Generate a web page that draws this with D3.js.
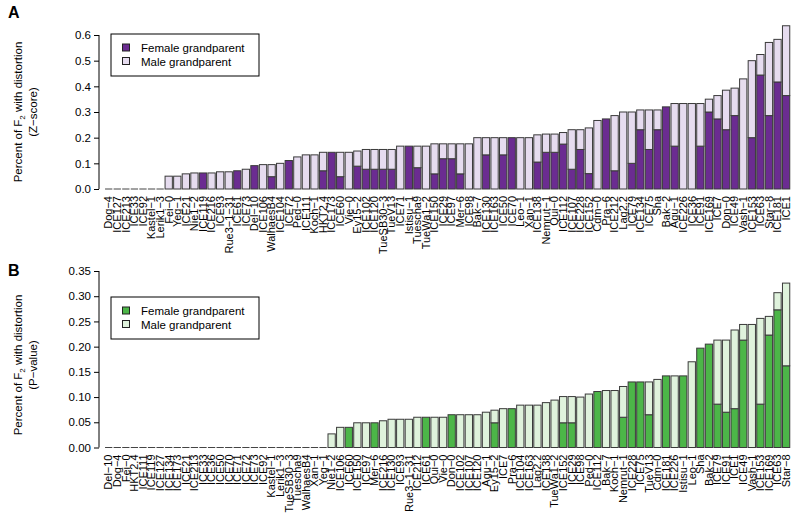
<!DOCTYPE html>
<html><head><meta charset="utf-8">
<script src="https://cdn.jsdelivr.net/npm/d3@7"></script>
<style>body{margin:0;background:#fff}svg{display:block;font-family:"Liberation Sans",Arial,sans-serif}</style>
</head><body><svg id="c" width="800" height="529"></svg>
<script>
const categoriesA = ["Dog-4","ICE127","ICE213","ICE33","ICE92","Kastel-1","Lerik1-3","Fei-0","Yeg-1","ICE21","Nie1-2","ICE119","ICE216","ICE93","Rue3-1-31","ICE61","ICE73","Del-10","ICE106","WalhaesB4","ICE104","ICE72","Ped-0","ICE111","Koch-1","HKT2.4","ICE173","ICE60","Vie-0","Ey15-2","ICE102","ICE120","TueSB30-3","TueV13","ICE71","Istisu-1","Tuescha9","TueWa1-2","ICE150","ICE29","ICE97","Mer-6","ICE98","Bak-7","ICE130","ICE163","ICE50","ICE70","Leo-1","Xan-1","ICE138","Nemrut-1","Qui-0","ICE112","ICE107","ICE228","ICE152","Cdm-0","Pra-6","ICE212","Lag2.2","ICE79","ICE134","ICE75","Sha","Bak-2","Agu-1","ICE226","ICE36","ICE91","ICE169","ICE7","Don-0","ICE49","Vash-1","ICE153","ICE63","Star-8","ICE181","ICE1"];
const femaleA = [0,0,0,0,0,0,0,0,0,0,0,0.0625,0,0,0,0.071,0,0.091,0,0.048,0,0.111,0,0,0,0.071,0.143,0.048,0,0.089,0.077,0.077,0.077,0.077,0,0.167,0.083,0,0.059,0.118,0.118,0.059,0,0,0.133,0,0.133,0.2,0,0,0.105,0.143,0.143,0.175,0.077,0.154,0.06,0,0.273,0.071,0,0.1,0.231,0.154,0.231,0.32,0.167,0,0,0.167,0.3,0.273,0.231,0.286,0,0.2,0.444,0.286,0.417,0.364];
const maleA = [0,0,0,0,0,0,0,0.05,0.05,0.059,0.0625,0,0.0625,0.067,0.067,0,0.077,0,0.095,0.047,0.1,0,0.125,0.133,0.133,0.072,0,0.095,0.143,0.059,0.077,0.077,0.077,0.077,0.167,0,0.084,0.167,0.117,0.058,0.058,0.117,0.176,0.2,0.067,0.2,0.067,0,0.2,0.2,0.106,0.071,0.071,0.045,0.154,0.077,0.178,0.267,0,0.215,0.3,0.2,0.077,0.154,0.077,0,0.166,0.333,0.333,0.166,0.05,0.091,0.154,0.107,0.429,0.3,0.08,0.285,0.166,0.272];
const ticksA = [0,0.1,0.2,0.3,0.4,0.5,0.6];

const categoriesB = ["Del-10","Dog-4","Fei-0","HKT2.4","ICE111","ICE119","ICE127","ICE134","ICE173","ICE21","ICE213","ICE33","ICE36","ICE50","ICE70","ICE71","ICE72","ICE73","ICE92","Kastel-1","Lerik1-3","TueSB30-3","Tuescha9","WalhaesB4","Xan-1","Yeg-1","Nie1-2","ICE106","ICE60","ICE150","ICE97","Mer-6","ICE216","ICE130","ICE93","Rue3-1-31","ICE212","ICE61","Qui-0","Vie-0","Don-0","ICE102","ICE107","ICE120","Agu-1","Ey15-2","ICE7","Pra-6","ICE104","ICE163","Lag2.2","ICE138","TueWa1-2","ICE152","ICE29","ICE98","Ped-0","ICE112","Bak-7","Koch-1","Nemrut-1","ICE228","ICE75","TueV13","Cdm-0","ICE181","ICE226","Istisu-1","Leo-1","Sha","Bak-2","ICE79","ICE91","ICE1","ICE49","Vash-1","ICE153","ICE169","ICE63","Star-8"];
const femaleB = [0,0,0,0,0,0,0,0,0,0,0,0,0,0,0,0,0,0,0,0,0,0,0,0,0,0,0,0,0.04,0,0,0.049,0,0,0,0,0,0.06,0,0,0.065,0,0,0,0,0.049,0,0.077,0,0,0,0,0,0.049,0.049,0,0,0.111,0,0,0.06,0.13,0.13,0.065,0,0.142,0,0.142,0,0.197,0.205,0.086,0.07,0.077,0.213,0,0.086,0.223,0.273,0.162];
const maleB = [0,0,0,0,0,0,0,0,0,0,0,0,0,0,0,0,0,0,0,0,0,0,0,0,0,0,0.027,0.04,0,0.049,0.049,0,0.053,0.056,0.056,0.056,0.06,0,0.06,0.06,0,0.065,0.065,0.065,0.07,0.025,0.077,0,0.084,0.084,0.084,0.089,0.094,0.052,0.052,0.1,0.106,0,0.113,0.113,0.061,0,0,0.065,0.135,0,0.142,0,0.17,0,0,0.127,0.143,0.156,0.031,0.244,0.17,0.037,0.034,0.164];
const ticksB = [0,0.05,0.1,0.15,0.2,0.25,0.3,0.35];

const legendLabels = ["Female grandparent","Male grandparent"];
const svg = d3.select("#c");

function panel(o){
  const g = svg.append("g");
  const x = d3.scaleBand().domain(o.cats).range([104.4,790.4]).paddingInner(0.15).paddingOuter(0.075);
  const y = d3.scaleLinear().domain([0,o.ticks[o.ticks.length-1]]).range([o.y0,o.y1]);
  const bw = x.bandwidth();
  // y axis
  const ax = g.append("g").attr("transform","translate(99,0)")
    .call(d3.axisLeft(y).tickValues(o.ticks).tickFormat(d3.format(o.fmt)).tickSize(5).tickPadding(3));
  ax.select(".domain").attr("d",`M0,${y(0)}V${y(o.ticks[o.ticks.length-1])}`).attr("stroke","#000");
  ax.selectAll("text").attr("font-size","11.5px").attr("fill","#000").attr("font-family","Liberation Sans, Arial, sans-serif");
  // bars
  const bars = g.selectAll(".bar").data(o.cats.map((c,i)=>({c,f:o.fem[i],m:o.mal[i]}))).enter().append("g");
  bars.filter(d=>d.f+d.m===0).append("line")
    .attr("x1",d=>x(d.c)).attr("x2",d=>x(d.c)+bw).attr("y1",y(0)).attr("y2",y(0))
    .attr("stroke","#444").attr("stroke-width",1);
  bars.filter(d=>d.f>0).append("rect")
    .attr("x",d=>x(d.c)).attr("width",bw).attr("y",d=>y(d.f)).attr("height",d=>y(0)-y(d.f))
    .attr("fill",o.dark).attr("stroke","#3a3a3a").attr("stroke-width",1);
  bars.filter(d=>d.m>0).append("rect")
    .attr("x",d=>x(d.c)).attr("width",bw).attr("y",d=>y(d.f+d.m)).attr("height",d=>y(d.f)-y(d.f+d.m))
    .attr("fill",o.light).attr("stroke","#3a3a3a").attr("stroke-width",1);
  // x labels
  g.selectAll(".xl").data(o.cats).enter().append("text")
    .attr("transform",d=>`translate(${x(d)+bw/2+3.8},${o.y0+7}) rotate(-90)`)
    .attr("text-anchor","end").attr("font-size","11px").text(d=>d.replace(/-/g,"\u2212"));
  // y title
  const t = g.append("text").attr("transform",`translate(22,${o.ym}) rotate(-90)`).attr("text-anchor","middle").attr("font-size","11.5px");
  t.append("tspan").text("Percent of F");
  t.append("tspan").attr("font-size","8px").attr("dy",3).text("2");
  t.append("tspan").attr("dy",-3).text(" with distortion");
  g.append("text").attr("transform",`translate(37,${o.ym}) rotate(-90)`).attr("text-anchor","middle").attr("font-size","11.5px").text(o.sub);
  // panel letter
  g.append("text").attr("x",8).attr("y",o.letterY).attr("font-size","16px").attr("font-weight","bold").text(o.letter);
  // legend
  const lg = g.append("g").attr("transform",`translate(111,${o.legY})`);
  lg.append("rect").attr("width",148).attr("height",42).attr("fill","#fff").attr("stroke","#000").attr("stroke-width",1);
  [o.dark,o.light].forEach((c,i)=>{
    lg.append("rect").attr("x",11.5).attr("y",10+i*13.5).attr("width",7).attr("height",7).attr("fill",c).attr("stroke","#222");
    lg.append("text").attr("x",30).attr("y",18+i*13.5).attr("font-size","11.5px").text(legendLabels[i]);
  });
}

panel({cats:categoriesA,fem:femaleA,mal:maleA,ticks:ticksA,fmt:".1f",y0:189,y1:35,ym:112,
  dark:"#6b2c91",light:"#e6dcef",sub:"(Z\u2212score)",letter:"A",letterY:18,legY:34});
panel({cats:categoriesB,fem:femaleB,mal:maleB,ticks:ticksB,fmt:".2f",y0:447.5,y1:271,ym:365,
  dark:"#4cb648",light:"#dff2dc",sub:"(P\u2212value)",letter:"B",letterY:276,legY:297});
</script></body></html>
